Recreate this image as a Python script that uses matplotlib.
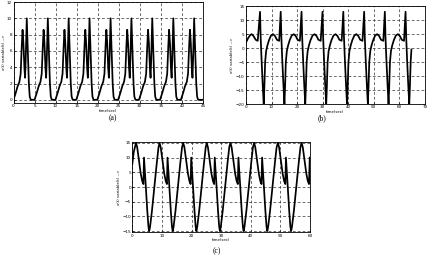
import numpy as np
import matplotlib
matplotlib.use("Agg")
import matplotlib.pyplot as plt

a_starts = [0, 5.0, 9.95, 14.9, 19.9, 24.85, 29.8, 34.8, 39.75]
a_dt = [0, 0.5, 1.0, 1.4, 1.7, 1.95, 2.15, 2.35, 2.6, 2.75, 2.9, 3.15, 3.4, 3.65, 3.85, 4.1]
a_y = [0, 0.8, 1.7, 2.2, 3.2, 6.5, 8.6, 7.0, 3.8, 2.7, 5.0, 10.0, 6.0, 2.0, 0.4, 0]
a_end = (45, 0)

# ---- panel (b): lead-in, spike times, one cycle after a spike, tail
b_lead_t = [0, 0.8, 1.6, 2.2, 2.9, 3.8, 4.6]
b_lead_y = [2.0, 3.5, 4.6, 5.0, 4.4, 3.0, 2.6]
b_spikes = [5.5, 13.6, 21.75, 29.95, 38.1, 46.25, 54.35, 62.45]
b_dt = [0, 0.25, 0.6, 1.05, 1.45, 1.7, 2.0, 2.4, 2.9, 3.5, 4.3, 5.1, 5.9, 6.6, 7.5]
b_y = [13, 4, -4, -13, -20, -14, -5, -1, 1, 2.8, 4.5, 5.0, 4.3, 3.0, 2.6]
b_tail_dt = [0, 0.25, 0.6, 1.05, 1.45, 1.7, 2.0, 2.3]
b_tail_y = [13, 4, -4, -13, -20, -14, -5, -0.5]

# ---- panel (c): lead-in, peak times, one cycle after a peak
c_lead_t = [0, 0.5]
c_lead_y = [7.8, 12.0]
c_peaks = [1.25, 9.2, 17.2, 25.15, 33.15, 41.15, 49.2, 57.2]
c_dt = [0, 0.4, 1.0, 1.6, 2.1, 2.5, 2.7, 3.2, 3.8, 4.2, 4.45, 4.75, 5.4, 6.2, 7.0, 7.6]
c_y = [15, 13.5, 9, 4.5, 2.0, 1.0, 10, 2, -8, -13.5, -15, -13.5, -8, 0, 8, 13.5]
c_tail_dt = [0, 0.4, 1.0, 1.6, 2.1, 2.5, 2.75]
c_tail_y = [15, 13.5, 9, 4.5, 2.0, 1.0, 10]


def build(starts, dt, y, lead=None, tail=None):
    ts, ys = [], []
    if lead is not None:
        ts += list(lead[0])
        ys += list(lead[1])
    for i, s in enumerate(starts):
        if tail is not None and i == len(starts) - 1:
            ts += [s + d for d in tail[0]]
            ys += list(tail[1])
        else:
            ts += [s + d for d in dt]
            ys += list(y)
    return np.array(ts), np.array(ys)


def style(ax, xlim, ylim, xt, yt, ylabel):
    ax.set_xlim(*xlim)
    ax.set_ylim(*ylim)
    ax.set_xticks(xt)
    ax.set_yticks(yt)
    ax.grid(True, color="#333333", linestyle=(0, (4, 3)), linewidth=0.5)
    ax.tick_params(direction="in", length=1.5, width=0.4, labelsize=3, pad=1)
    for sp in ax.spines.values():
        sp.set_linewidth(0.6)
    ax.set_xlabel("time(sec)", fontsize=2.8, labelpad=0.5)
    ax.set_ylabel(ylabel, fontsize=2.8, labelpad=1)


fig = plt.figure(figsize=(4.3, 2.57), dpi=100)
fig.patch.set_facecolor("white")

ax_a = fig.add_axes([0.0314, 0.599, 0.4407, 0.393])
ta, ya = build(a_starts, a_dt, a_y)
ta = np.append(ta, a_end[0])
ya = np.append(ya, a_end[1])
ax_a.plot(ta, ya, color="black", linewidth=1.25)
style(ax_a, (0, 45), (-0.4, 12), range(0, 46, 5), range(0, 13, 2), "x(t) variable(t) -->")

ax_b = fig.add_axes([0.572, 0.595, 0.416, 0.381])
tb, yb = build(b_spikes, b_dt, b_y, lead=(b_lead_t, b_lead_y), tail=(b_tail_dt, b_tail_y))
ax_b.plot(tb, yb, color="black", linewidth=1.25)
style(ax_b, (0, 70), (-20, 15), range(0, 71, 10), range(-20, 16, 5), "x(t) variable(t) -->")

ax_c = fig.add_axes([0.3077, 0.0961, 0.413, 0.3525])
tc, yc = build(c_peaks, c_dt, c_y, lead=(c_lead_t, c_lead_y), tail=(c_tail_dt, c_tail_y))
ax_c.plot(tc, yc, color="black", linewidth=1.25)
style(ax_c, (0, 60), (-15.4, 15.4), range(0, 61, 10), range(-15, 16, 5), "x(t) variable(t) -->")

fig.text(113 / 430, 1 - 118 / 257, "(a)", ha="center", va="center", fontsize=5.5, family="Liberation Serif")
fig.text(322 / 430, 1 - 118 / 257, "(b)", ha="center", va="center", fontsize=5.5, family="Liberation Serif")
fig.text(217 / 430, 1 - 251.5 / 257, "(c)", ha="center", va="center", fontsize=5.5, family="Liberation Serif")

fig.savefig("out.png", dpi=100)
